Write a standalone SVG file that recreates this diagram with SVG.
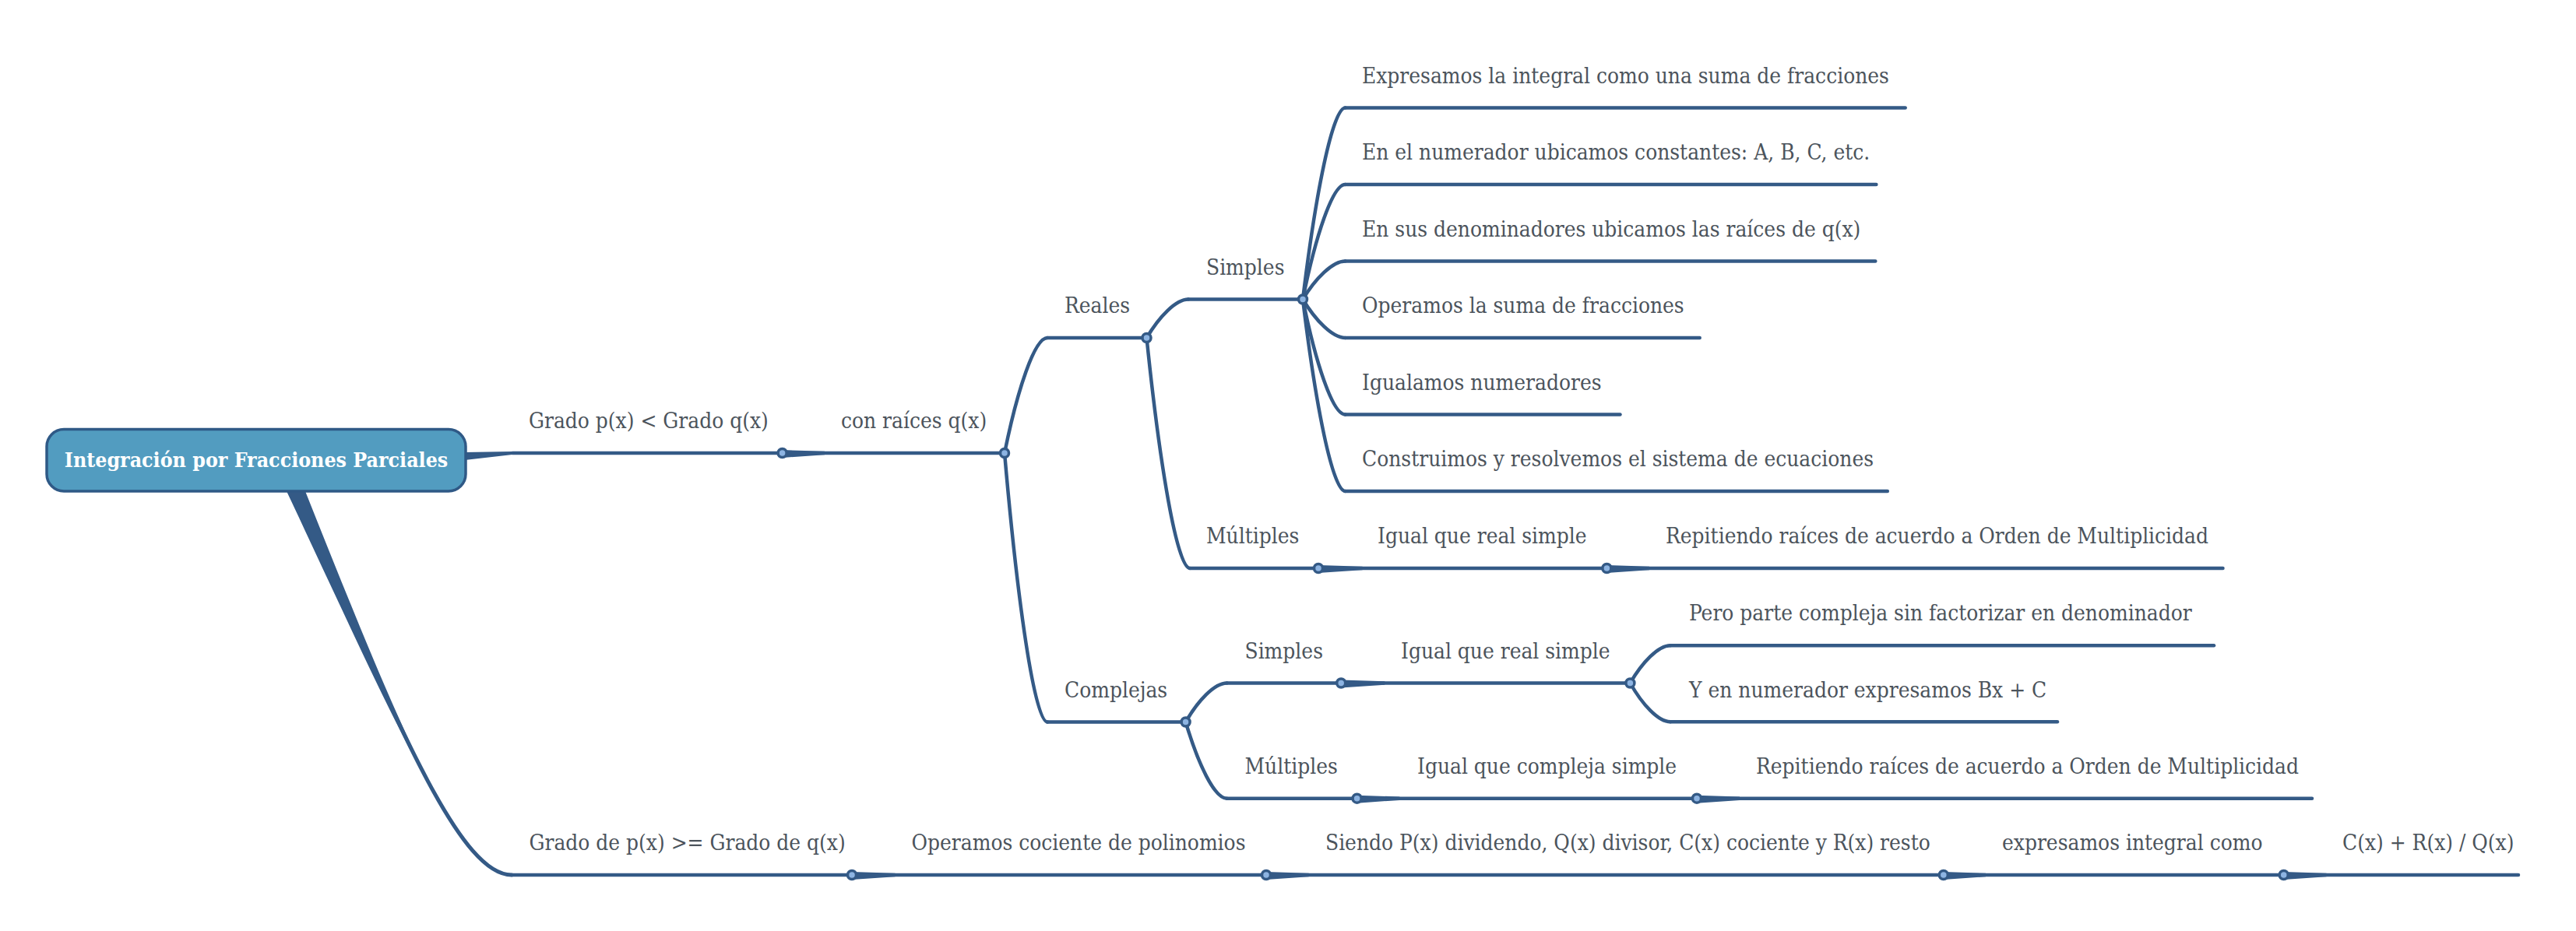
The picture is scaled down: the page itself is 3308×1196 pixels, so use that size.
<svg xmlns="http://www.w3.org/2000/svg" width="3308" height="1196" viewBox="0 0 3308 1196">
<style>
.bg{fill:#ffffff}
.lbl{font-family:"DejaVu Serif Condensed","DejaVu Serif","Liberation Serif",serif;font-stretch:condensed;font-size:27.8px;fill:#4c545c}
.root{font-family:"DejaVu Serif Condensed","DejaVu Serif","Liberation Serif",serif;font-stretch:condensed;font-size:26.5px;font-weight:bold;fill:#ffffff;text-anchor:middle}
.ul{stroke:#345a86;stroke-width:4.5;fill:none;stroke-linecap:round}
.cv{stroke:#345a86;stroke-width:4.5;fill:none;stroke-linecap:round}
.wg{fill:#345a86;stroke:none}
.dot{fill:#8db4e2;stroke:#345a86;stroke-width:3.5}
.box{fill:#529cc0;stroke:#2f5986;stroke-width:3.5}
</style>
<rect class="bg" x="0" y="0" width="3308" height="1196"/>

<g id="connectors">
  <!-- root to first branch -->
  <path class="wg" d="M597,581 L658,580 L658,584 L597,591 Z"/>
  <!-- root to bottom branch (tapered start) -->
  <path class="cv" d="M380,631 C510,930 590,1124 657,1124" style="stroke-width:5"/>
  <path class="wg" d="M368,631 C453.4,812.4 515.7,953 568,1036.6 C520.3,951 462.6,808.4 392,631 Z"/>
  <!-- con raices -> Reales / Complejas -->
  <path class="cv" d="M1290,582 C1306.5,500.6 1328.5,434 1345,434"/>
  <path class="cv" d="M1290,582 C1306.5,772 1328.5,927.5 1345,927.5"/>
  <!-- Reales -> Simples / Multiples -->
  <path class="cv" d="M1472.5,434 C1488.5,406.8 1510,384.5 1526,384.5"/>
  <path class="cv" d="M1472.5,434 C1489.2,596.8 1511.4,730 1528,730"/>
  <!-- Simples -> six children -->
  <path class="cv" d="M1673,384.5 C1689.4,249.2 1711.2,138.5 1727.5,138.5"/>
  <path class="cv" d="M1673,384.5 C1689.4,303.4 1711.2,237 1727.5,237"/>
  <path class="cv" d="M1673,384.5 C1689.4,357.5 1711.2,335.5 1727.5,335.5"/>
  <path class="cv" d="M1673,384.5 C1689.4,411.7 1711.2,434 1727.5,434"/>
  <path class="cv" d="M1673,384.5 C1689.4,465.9 1711.2,532.5 1727.5,532.5"/>
  <path class="cv" d="M1673,384.5 C1689.4,520.1 1711.2,631 1727.5,631"/>
  <!-- Complejas -> Simples / Multiples -->
  <path class="cv" d="M1522.6,927.5 C1538.5,900 1559.6,877.5 1575.5,877.5"/>
  <path class="cv" d="M1522.6,927.5 C1538.5,981.5 1559.6,1025.7 1575.5,1025.7"/>
  <!-- Igual que real simple (complejas) -> two children -->
  <path class="cv" d="M2093.4,877.5 C2108.9,851 2129.5,829.3 2145,829.3"/>
  <path class="cv" d="M2093.4,877.5 C2108.9,904.9 2129.5,927.3 2145,927.3"/>
  <!-- single-child wedges -->
  <path class="wg" d="M1004.6,578 L1059,579.8 L1059,584.2 L1004.6,588 Z"/>
  <path class="wg" d="M1693,726 L1749.6,727.8 L1749.6,732.2 L1693,736 Z"/>
  <path class="wg" d="M2063.4,726 L2118,727.8 L2118,732.2 L2063.4,736 Z"/>
  <path class="wg" d="M1722.2,873.5 L1778.3,875.3 L1778.3,879.7 L1722.2,883.5 Z"/>
  <path class="wg" d="M1742.6,1021.7 L1797.4,1023.5 L1797.4,1027.9 L1742.6,1031.7 Z"/>
  <path class="wg" d="M2179,1021.7 L2234,1023.5 L2234,1027.9 L2179,1031.7 Z"/>
  <path class="wg" d="M1094,1120 L1149.5,1121.8 L1149.5,1126.2 L1094,1130 Z"/>
  <path class="wg" d="M1626,1120 L1680.7,1121.8 L1680.7,1126.2 L1626,1130 Z"/>
  <path class="wg" d="M2495.8,1120 L2550,1121.8 L2550,1126.2 L2495.8,1130 Z"/>
  <path class="wg" d="M2932.7,1120 L2987.5,1121.8 L2987.5,1126.2 L2932.7,1130 Z"/>
</g>

<g id="root">
  <rect class="box" x="60" y="551.5" width="538" height="79.5" rx="22" ry="22"/>
  <text class="root" x="329" y="599.5">Integración por Fracciones Parciales</text>
</g>

<g id="n-grado-menor">
  <line class="ul" x1="658" y1="582" x2="1004.6" y2="582"/>
  <text class="lbl" x="679" y="550">Grado p(x) &lt; Grado q(x)</text>
</g>
<g id="n-con-raices">
  <line class="ul" x1="1004.6" y1="582" x2="1290" y2="582"/>
  <text class="lbl" x="1080" y="550">con raíces q(x)</text>
</g>
<g id="n-reales">
  <line class="ul" x1="1345" y1="434" x2="1472.5" y2="434"/>
  <text class="lbl" x="1367" y="402">Reales</text>
</g>
<g id="n-complejas">
  <line class="ul" x1="1345" y1="927.5" x2="1522.6" y2="927.5"/>
  <text class="lbl" x="1367" y="895.5">Complejas</text>
</g>
<g id="n-reales-simples">
  <line class="ul" x1="1526" y1="384.5" x2="1673" y2="384.5"/>
  <text class="lbl" x="1549" y="352.5">Simples</text>
</g>
<g id="n-reales-multiples">
  <line class="ul" x1="1528" y1="730" x2="1693" y2="730"/>
  <text class="lbl" x="1549" y="698">Múltiples</text>
</g>
<g id="n-expresamos-suma">
  <line class="ul" x1="1727.5" y1="138.5" x2="2446.7" y2="138.5"/>
  <text class="lbl" x="1749" y="106.5">Expresamos la integral como una suma de fracciones</text>
</g>
<g id="n-numerador-constantes">
  <line class="ul" x1="1727.5" y1="237" x2="2409.4" y2="237"/>
  <text class="lbl" x="1749" y="205">En el numerador ubicamos constantes: A, B, C, etc.</text>
</g>
<g id="n-denominadores">
  <line class="ul" x1="1727.5" y1="335.5" x2="2408.3" y2="335.5"/>
  <text class="lbl" x="1749" y="303.5">En sus denominadores ubicamos las raíces de q(x)</text>
</g>
<g id="n-operamos-suma">
  <line class="ul" x1="1727.5" y1="434" x2="2182.7" y2="434"/>
  <text class="lbl" x="1749" y="402">Operamos la suma de fracciones</text>
</g>
<g id="n-igualamos">
  <line class="ul" x1="1727.5" y1="532.5" x2="2080.5" y2="532.5"/>
  <text class="lbl" x="1749" y="500.5">Igualamos numeradores</text>
</g>
<g id="n-construimos">
  <line class="ul" x1="1727.5" y1="631" x2="2423.8" y2="631"/>
  <text class="lbl" x="1749" y="599">Construimos y resolvemos el sistema de ecuaciones</text>
</g>
<g id="n-igual-real-simple-1">
  <line class="ul" x1="1693" y1="730" x2="2063.4" y2="730"/>
  <text class="lbl" x="1769" y="698">Igual que real simple</text>
</g>
<g id="n-repitiendo-1">
  <line class="ul" x1="2063.4" y1="730" x2="2854.5" y2="730"/>
  <text class="lbl" x="2139" y="698">Repitiendo raíces de acuerdo a Orden de Multiplicidad</text>
</g>
<g id="n-complejas-simples">
  <line class="ul" x1="1575.5" y1="877.5" x2="1722.2" y2="877.5"/>
  <text class="lbl" x="1598.5" y="845.5">Simples</text>
</g>
<g id="n-complejas-multiples">
  <line class="ul" x1="1575.5" y1="1025.7" x2="1742.6" y2="1025.7"/>
  <text class="lbl" x="1598.5" y="993.5">Múltiples</text>
</g>
<g id="n-igual-real-simple-2">
  <line class="ul" x1="1722.2" y1="877.5" x2="2093.4" y2="877.5"/>
  <text class="lbl" x="1799" y="845.5">Igual que real simple</text>
</g>
<g id="n-pero-parte">
  <line class="ul" x1="2145" y1="829.3" x2="2843" y2="829.3"/>
  <text class="lbl" x="2169" y="797">Pero parte compleja sin factorizar en denominador</text>
</g>
<g id="n-y-en-numerador">
  <line class="ul" x1="2145" y1="927.3" x2="2642" y2="927.3"/>
  <text class="lbl" x="2169" y="895.5">Y en numerador expresamos Bx + C</text>
</g>
<g id="n-igual-compleja-simple">
  <line class="ul" x1="1742.6" y1="1025.7" x2="2179" y2="1025.7"/>
  <text class="lbl" x="1820" y="993.5">Igual que compleja simple</text>
</g>
<g id="n-repitiendo-2">
  <line class="ul" x1="2179" y1="1025.7" x2="2969" y2="1025.7"/>
  <text class="lbl" x="2255" y="993.5">Repitiendo raíces de acuerdo a Orden de Multiplicidad</text>
</g>
<g id="n-grado-mayor">
  <line class="ul" x1="657" y1="1124" x2="1094" y2="1124"/>
  <text class="lbl" x="679.5" y="1092">Grado de p(x) &gt;= Grado de q(x)</text>
</g>
<g id="n-operamos-cociente">
  <line class="ul" x1="1094" y1="1124" x2="1626" y2="1124"/>
  <text class="lbl" x="1170.5" y="1092">Operamos cociente de polinomios</text>
</g>
<g id="n-siendo">
  <line class="ul" x1="1626" y1="1124" x2="2495.8" y2="1124"/>
  <text class="lbl" x="1702" y="1092">Siendo P(x) dividendo, Q(x) divisor, C(x) cociente y R(x) resto</text>
</g>
<g id="n-expresamos-como">
  <line class="ul" x1="2495.8" y1="1124" x2="2932.7" y2="1124"/>
  <text class="lbl" x="2571" y="1092">expresamos integral como</text>
</g>
<g id="n-resultado">
  <line class="ul" x1="2932.7" y1="1124" x2="3234" y2="1124"/>
  <text class="lbl" x="3008" y="1092">C(x) + R(x) / Q(x)</text>
</g>

<g id="dots">
  <circle class="dot" cx="1004.6" cy="582" r="5.5"/>
  <circle class="dot" cx="1290" cy="582" r="5.5"/>
  <circle class="dot" cx="1472.5" cy="434" r="5.5"/>
  <circle class="dot" cx="1673" cy="384.5" r="5.5"/>
  <circle class="dot" cx="1693" cy="730" r="5.5"/>
  <circle class="dot" cx="2063.4" cy="730" r="5.5"/>
  <circle class="dot" cx="1522.6" cy="927.5" r="5.5"/>
  <circle class="dot" cx="1722.2" cy="877.5" r="5.5"/>
  <circle class="dot" cx="2093.4" cy="877.5" r="5.5"/>
  <circle class="dot" cx="1742.6" cy="1025.7" r="5.5"/>
  <circle class="dot" cx="2179" cy="1025.7" r="5.5"/>
  <circle class="dot" cx="1094" cy="1124" r="5.5"/>
  <circle class="dot" cx="1626" cy="1124" r="5.5"/>
  <circle class="dot" cx="2495.8" cy="1124" r="5.5"/>
  <circle class="dot" cx="2932.7" cy="1124" r="5.5"/>
</g>
</svg>
